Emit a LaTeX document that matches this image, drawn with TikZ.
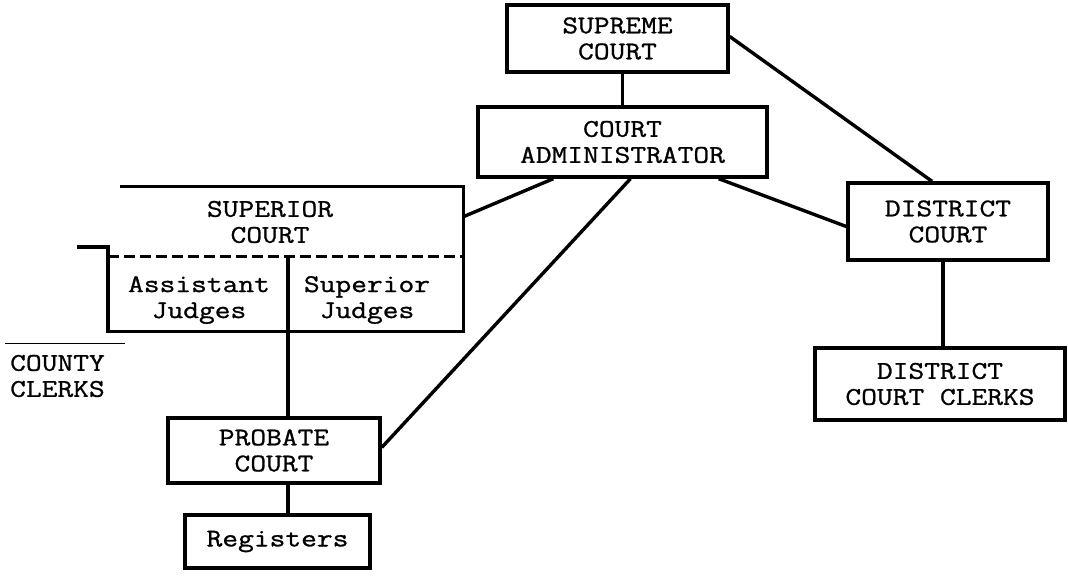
\documentclass[tikz,border=0pt]{standalone}
\usepackage{fontspec}
\newfontfamily\cf{Latin Modern Mono}[FakeStretch=1.2, FakeBold=1.0]
\usetikzlibrary{calc}
\begin{document}
\begin{tikzpicture}[x=1pt,y=-1pt,
  txt/.style={font=\cf\fontsize{25.5}{26}\selectfont, align=center, inner sep=0pt},
  box/.style={txt, draw, line width=3.4pt},
  conn/.style={line width=3.4pt},
  dashline/.style={line width=3pt, dash pattern=on 11pt off 5pt}]
\useasboundingbox (0,0) rectangle (1068,580);
% boxes
\node[box, minimum width=221pt, minimum height=67pt] (sup) at (617.5,38.5) {SUPREME\\COURT};
\node[box, minimum width=289pt, minimum height=70pt] (adm) at (622.5,142) {COURT\\ADMINISTRATOR};
\node[box, minimum width=200pt, minimum height=77pt] (dist) at (948,221.5) {DISTRICT\\COURT};
\node[box, minimum width=250pt, minimum height=72pt] (dcc) at (940,384) {DISTRICT\\COURT CLERKS};
\node[box, minimum width=212pt, minimum height=65pt] (prob) at (274,450.5) {PROBATE\\COURT};
\node[box, minimum width=185pt, minimum height=53pt] (reg) at (277.5,541.5) {Registers};
% superior court
\node[txt, minimum width=355pt, minimum height=144pt] (supc) at (285.5,259) {};
\node[txt] (supct) at (270,222) {SUPERIOR\\COURT};
\node[txt] (asj) at (199,300) {Assistant\\Judges};
\node[txt] (spj) at (367,300) {Superior\\Judges};
\coordinate (dl) at ($(supc.north west)+(0,70)$);
\coordinate (dr) at ($(supc.north east)+(0,70)$);
\coordinate (cl) at ($(supc.north west)+(0,60)$);
\coordinate (div) at ($(supc.north west)+(180,70)$);
\draw[line width=3.4pt, line join=miter] ($(supc.north west)+(12,0)$) -- (supc.north east) -- (supc.south east) -- (supc.south west) -- (cl) -- ++(-31,0);
\draw[dashline] (dl) -- (dr);
\draw[conn] (div) -- (div |- supc.south);
% county clerks
\node[txt, align=left, anchor=west] (cc) at (10,376) {COUNTY\\CLERKS};
\coordinate (ccl) at (5,343);
\coordinate (ccr) at (125,343);
\draw[line width=1pt] (ccl) -- (ccr);
% connectors
\draw[conn] (adm.north) -- (adm.north |- sup.south);
\draw[conn] ($(sup.east)+(0,-2)$) -- ($(dist.north)+(-16,0)$);
\draw[conn] ($(adm.south west)+(77,0)$) -- ($(supc.north east)+(0,30)$);
\draw[conn] ($(adm.south)+(8,0)$) -- ($(prob.east)+(0,-3)$);
\draw[conn] ($(adm.south east)+(-50,0)$) -- ($(dist.west)+(0,5)$);
\draw[conn] (div |- supc.south) -- (div |- prob.north);
\draw[conn] (div |- prob.south) -- (div |- reg.north);
\draw[conn] ($(dist.south)+(-5,0)$) -- ($(dist.south |- dcc.north)+(-5,0)$);
\end{tikzpicture}
\end{document}
